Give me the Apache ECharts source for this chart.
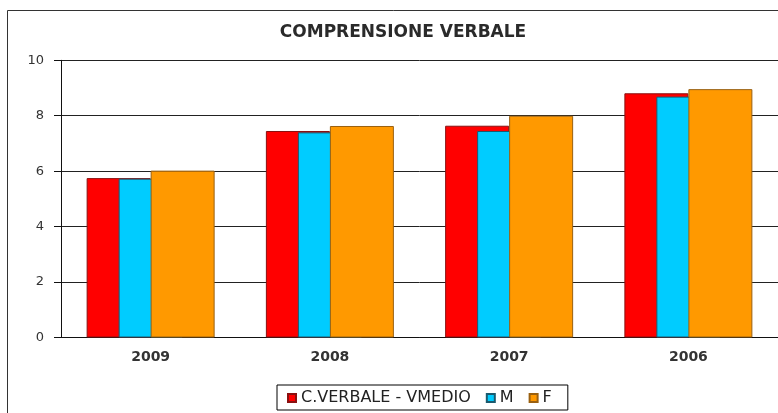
<!DOCTYPE html>
<html>
<head>
<meta charset="utf-8">
<script src="https://cdn.jsdelivr.net/npm/echarts@6/dist/echarts.min.js"></script>
<style>
  html, body { margin: 0; padding: 0; background: #fff; }
  #main { width: 778px; height: 413px; }
</style>
</head>
<body>
<div id="main"></div>
<script>
// dati
var anni = ['2009', '2008', '2007', '2006'];
var vMedio = [5.75, 7.45, 7.64, 8.81];
var maschi = [5.73, 7.40, 7.45, 8.69];
var femmine = [6.02, 7.63, 8.00, 8.96];
var yTicks = [0, 2, 4, 6, 8, 10];

var font = 'DejaVu Sans';

var myChart = echarts.init(document.getElementById('main'));

var option = {
  animation: false,
  backgroundColor: '#fff',
  graphic: [
    {
      type: 'rect',
      shape: { x: 7.5, y: 10.5, width: 820, height: 430 },
      style: { fill: 'none', stroke: '#333', lineWidth: 1 },
      silent: true
    },
    {
      type: 'text',
      x: 403,
      y: 33,
      style: {
        text: 'COMPRENSIONE VERBALE',
        font: 'bold 17px "DejaVu Sans"',
        fill: '#2a2a2a',
        textAlign: 'center',
        align: 'center',
        textVerticalAlign: 'middle',
        verticalAlign: 'middle'
      }
    }
  ],
  grid: { left: 61, right: -4, top: 60.3, bottom: 75.5, containLabel: false },
  legend: {
    left: 277,
    top: 385,
    padding: [5, 16, 4, 10],
    itemGap: 15,
    itemWidth: 8,
    itemHeight: 8,
    icon: 'rect',
    borderColor: '#000',
    borderWidth: 1,
    textStyle: { fontFamily: font, fontSize: 16, color: '#222' },
    data: ['C.VERBALE - VMEDIO', 'M', 'F']
  },
  xAxis: {
    type: 'category',
    data: anni,
    boundaryGap: true,
    axisLine: { lineStyle: { color: '#111', width: 1 } },
    axisTick: { length: 4, lineStyle: { color: '#111' } },
    axisLabel: { margin: 13, fontFamily: font, fontSize: 14, fontWeight: 'bold', color: '#333' }
  },
  yAxis: {
    type: 'value',
    min: yTicks[0],
    max: yTicks[yTicks.length - 1],
    interval: 2,
    axisLine: { show: true, lineStyle: { color: '#111', width: 1 } },
    axisTick: { show: true, length: 7, lineStyle: { color: '#111' } },
    axisLabel: { margin: 17, fontFamily: font, fontSize: 13, color: '#333' },
    splitLine: { lineStyle: { color: '#222', width: 1 } }
  },
  series: [
    {
      name: 'C.VERBALE - VMEDIO',
      type: 'bar',
      data: vMedio,
      barWidth: 64,
      barGap: '-50%',
      itemStyle: { color: '#FF0000', borderColor: '#8a1010', borderWidth: 1 }
    },
    {
      name: 'M',
      type: 'bar',
      data: maschi,
      barWidth: 64,
      barGap: '-50%',
      itemStyle: { color: '#00CCFF', borderColor: '#1a5a6e', borderWidth: 1 }
    },
    {
      name: 'F',
      type: 'bar',
      data: femmine,
      barWidth: 64,
      barGap: '-50%',
      itemStyle: { color: '#FF9900', borderColor: '#9a6010', borderWidth: 1 }
    }
  ]
};

myChart.setOption(option);
</script>
</body>
</html>
